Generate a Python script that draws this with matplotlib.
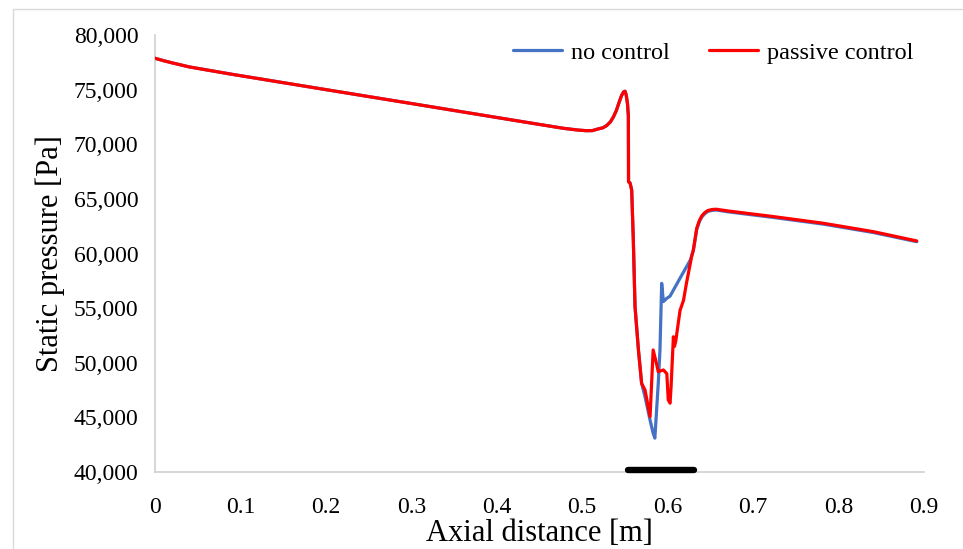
import matplotlib
matplotlib.use("Agg")
import matplotlib.pyplot as plt
from matplotlib.ticker import FuncFormatter
from matplotlib.patches import Rectangle

# ---- data ----
common_x = [0.000, 0.010, 0.020, 0.040, 0.088, 0.200, 0.300, 0.400, 0.440,
            0.478, 0.495, 0.505, 0.512, 0.5185, 0.524, 0.5285, 0.533, 0.5365,
            0.540, 0.543, 0.546, 0.5485, 0.5501, 0.5515, 0.553, 0.5540,
            0.5542, 0.5560, 0.5579, 0.5598, 0.5618, 0.5658, 0.5695]
common_y = [77870, 77650, 77450, 77080, 76430, 75000, 73730, 72450, 71940,
            71460, 71300, 71240, 71250, 71400, 71500, 71700, 72050, 72500,
            73100, 73800, 74450, 74800, 74850, 74500, 73700, 72600,
            66570, 66450, 65800, 61240, 55130, 51170, 48120]

passive_x = [0.5735, 0.5794, 0.5830, 0.5864, 0.5890, 0.5950, 0.5990, 0.6007,
             0.6028, 0.6040, 0.6067, 0.6080, 0.6095, 0.6145, 0.6185, 0.6220,
             0.6280, 0.6300, 0.6320, 0.6340, 0.6370, 0.6400, 0.6435, 0.6470,
             0.6520, 0.6570, 0.6700, 0.7236, 0.7820, 0.8407, 0.8915]
passive_y = [47500, 45070, 51170, 50100, 49180, 49340, 49000, 46600,
             46300, 47800, 52380, 51500, 52000, 54800, 55700, 57280,
             59700, 60320, 61300, 62300, 63000, 63450, 63750, 63930,
             64030, 64050, 63900, 63380, 62770, 62000, 61150]

noctrl_x = [0.5735, 0.5794, 0.5830, 0.5850, 0.5890, 0.5910, 0.5930, 0.5950,
            0.5990, 0.6028, 0.6145, 0.6265, 0.6300, 0.6320, 0.6340, 0.6370,
            0.6400, 0.6435, 0.6470, 0.6520, 0.6570, 0.6700, 0.7236, 0.7820,
            0.8407, 0.8915]
noctrl_y = [46900, 44750, 43550, 43100, 48120, 51170, 57270, 55600,
            55900, 56100, 57740, 59400, 60250, 61200, 62200, 62900,
            63350, 63650, 63850, 63950, 63980, 63820, 63300, 62690,
            61920, 61080]

bar_x = [0.553, 0.631]
bar_y = [40150, 40150]

y_ticks = [40000, 45000, 50000, 55000, 60000, 65000, 70000, 75000, 80000]
x_ticks = [0, 0.1, 0.2, 0.3, 0.4, 0.5, 0.6, 0.7, 0.8, 0.9]
x_labels = ["0", "0.1", "0.2", "0.3", "0.4", "0.5", "0.6", "0.7", "0.8", "0.9"]

plt.rcParams['font.family'] = ['Liberation Serif', 'DejaVu Serif']

fig = plt.figure(figsize=(9.63, 5.49), dpi=100)
ax = fig.add_axes([155/963, 1-472/549, (924-155)/963, (472-35)/549])

blue_x = common_x + noctrl_x
blue_y = common_y + noctrl_y
red_x = common_x + passive_x
red_y = common_y + passive_y

ax.plot(blue_x, blue_y, color='#4472C4', lw=2.3, label='no control',
        solid_joinstyle='round', solid_capstyle='round', zorder=3)
ax.plot(red_x, red_y, color='#FF0000', lw=2.3, label='passive control',
        solid_joinstyle='round', solid_capstyle='round', zorder=4)

ax.plot(bar_x, bar_y, color='black', lw=4.6, solid_capstyle='round',
        clip_on=False, zorder=5)

ax.set_xlim(0, 0.9)
ax.set_ylim(40000, 80000)
ax.set_yticks(y_ticks)
ax.set_xticks(x_ticks)
ax.set_xticklabels(x_labels)
ax.yaxis.set_major_formatter(FuncFormatter(lambda v, p: f"{int(v):,}"))

for s in ['top', 'right']:
    ax.spines[s].set_visible(False)
for s in ['left', 'bottom']:
    ax.spines[s].set_color('#D0D0D0')
    ax.spines[s].set_linewidth(1.2)

ax.tick_params(axis='both', length=0, labelsize=17, colors='black')
ax.tick_params(axis='x', pad=18)
ax.tick_params(axis='y', pad=12)

ax.set_xlabel('Axial distance [m]', fontsize=22, labelpad=1)
ax.set_ylabel('Static pressure [Pa]', fontsize=22, labelpad=6)

leg = ax.legend(loc='upper right', ncol=2, frameon=False, fontsize=17.5,
                handlelength=2.0, columnspacing=1.6, handletextpad=0.4,
                bbox_to_anchor=(1.015, 1.035))

# outer chart border
fig.patches.append(Rectangle((13/963, -0.05), 1.1, 1 - 9/549 + 0.05,
                             transform=fig.transFigure, fill=False,
                             edgecolor='#D9D9D9', lw=1.0))

fig.savefig('out.png', dpi=100, facecolor='white')
